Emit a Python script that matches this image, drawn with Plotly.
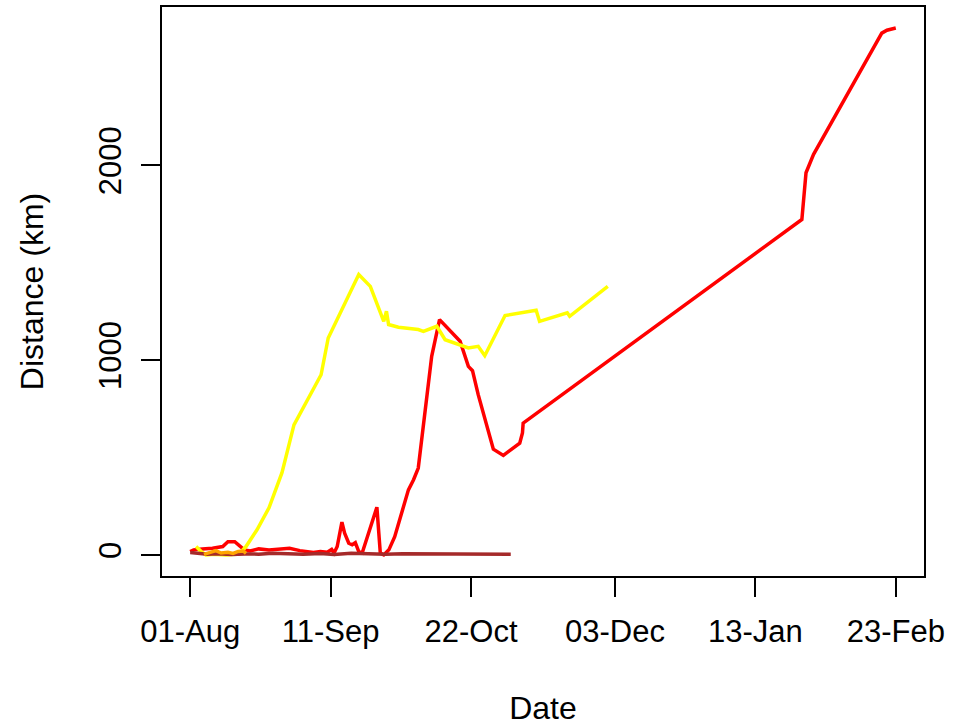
import pandas as pd
import plotly.graph_objects as go

# Tracked animals: distance from release site over time
red_dates = [
    "2016-08-01", "2016-08-02", "2016-08-04 12:00", "2016-08-07 12:00", "2016-08-10 12:00",
    "2016-08-12", "2016-08-14", "2016-08-15 07:00", "2016-08-16 19:00", "2016-08-18 12:00",
    "2016-08-21", "2016-08-24", "2016-08-27", "2016-08-30", "2016-09-02",
    "2016-09-04", "2016-09-06", "2016-09-08", "2016-09-10", "2016-09-11 07:00",
    "2016-09-12", "2016-09-12 22:00", "2016-09-14 07:00", "2016-09-15 02:00", "2016-09-16 07:00",
    "2016-09-17 07:00", "2016-09-18 05:00", "2016-09-19 05:00", "2016-09-20 05:00", "2016-09-24 12:00",
    "2016-09-25 12:00", "2016-09-26 12:00", "2016-09-28", "2016-09-29 17:00", "2016-09-30 22:00",
    "2016-10-03 17:00", "2016-10-05 05:00", "2016-10-06 14:00", "2016-10-10 12:00", "2016-10-12 19:00",
    "2016-10-18 19:00", "2016-10-21 05:00", "2016-10-22 10:00", "2016-10-24 02:00", "2016-10-28 12:00",
    "2016-10-31 10:00", "2016-11-05 05:00", "2016-11-06", "2016-11-06 05:00", "2017-01-26 14:00",
    "2017-01-27 19:00", "2017-01-30", "2017-02-18 22:00", "2017-02-20 10:00", "2017-02-23",
]
red_km = [
    17, 26, 30, 34, 43,
    68, 68, 51, 26, 20,
    31, 25, 31, 34, 22,
    15, 12, 18, 14, 28,
    10, 43, 168, 112, 60,
    52, 63, 17, 10, 245,
    9, 0, 26, 94, 163,
    334, 386, 446, 1020, 1208,
    1097, 968, 946, 823, 543,
    511, 574, 626, 677, 1722,
    1962, 2057, 2679, 2694, 2705,
]

yellow_dates = [
    "2016-08-02 17:00", "2016-08-04 05:00", "2016-08-05 14:00", "2016-08-08", "2016-08-11 10:00",
    "2016-08-15 07:00", "2016-08-17 07:00", "2016-08-20 12:00", "2016-08-24", "2016-08-27 19:00",
    "2016-08-31 07:00", "2016-09-08 05:00", "2016-09-10 07:00", "2016-09-19 05:00", "2016-09-22 14:00",
    "2016-09-26 12:00", "2016-09-27 07:00", "2016-09-27 22:00", "2016-09-30 19:00", "2016-10-06 14:00",
    "2016-10-08 02:00", "2016-10-12", "2016-10-14 10:00", "2016-10-21 05:00", "2016-10-24 02:00",
    "2016-10-26", "2016-10-31 22:00", "2016-11-10", "2016-11-11", "2016-11-19 02:00",
    "2016-11-19 19:00", "2016-11-30 22:00",
]
yellow_km = [
    43, 17, 0, 3, 0,
    5, 43, 129, 242, 422,
    668, 925, 1114, 1440, 1379,
    1199, 1251, 1183, 1169, 1157,
    1148, 1174, 1105, 1063, 1071,
    1023, 1229, 1256, 1199, 1243,
    1225, 1379,
]

brown_dates = [
    "2016-08-01", "2016-08-03", "2016-08-06", "2016-08-09", "2016-08-13",
    "2016-08-17", "2016-08-21", "2016-08-25", "2016-08-29", "2016-09-03",
    "2016-09-08", "2016-09-12", "2016-09-17", "2016-09-22", "2016-09-27",
    "2016-10-02", "2016-10-10", "2016-10-20", "2016-11-02 14:00",
]
brown_km = [12, 8, 3, 6, 2, 5, 4, 9, 6, 3, 7, 2, 8, 4, 3, 6, 5, 4, 3]

orange_dates = [
    "2016-08-05", "2016-08-07", "2016-08-08 12:00", "2016-08-10", "2016-08-12",
    "2016-08-13 12:00", "2016-08-15", "2016-08-16 12:00", "2016-08-17 07:00",
]
orange_km = [3, 12, 22, 10, 14, 8, 18, 20, 8]

tick_dates = ["2016-08-01", "2016-09-11", "2016-10-22", "2016-12-03", "2017-01-13", "2017-02-23"]
tick_labels = ["01-Aug", "11-Sep", "22-Oct", "03-Dec", "13-Jan", "23-Feb"]
y_ticks = [0, 1000, 2000]


def to_dt(values):
    return pd.to_datetime(values, format="ISO8601")


series = [
    (red_dates, red_km, "#FF0000"),
    (yellow_dates, yellow_km, "#FFFF00"),
    (brown_dates, brown_km, "#A52A2A"),
    (orange_dates, orange_km, "#FFA500"),
]

fig = go.Figure()
for dates, km, colour in series:
    fig.add_trace(go.Scatter(
        x=to_dt(dates), y=km, mode="lines",
        line=dict(color=colour, width=3.5), showlegend=False,
    ))

# axis limits padded by 4% like base R graphics
all_dates = to_dt(red_dates + yellow_dates + brown_dates + orange_dates)
t0, t1 = all_dates.min(), all_dates.max()
tpad = (t1 - t0) * 0.04
all_km = red_km + yellow_km + brown_km + orange_km
ymin, ymax = min(all_km), max(all_km)
ypad = (ymax - ymin) * 0.04

font = dict(family="Liberation Sans, Arial, sans-serif", size=31, color="black")
title_font = dict(family="Liberation Sans, Arial, sans-serif", size=32, color="black")

fig.update_layout(
    width=958, height=726,
    margin=dict(l=162, r=34, t=7, b=150),
    paper_bgcolor="white", plot_bgcolor="white",
    font=font,
    xaxis=dict(
        range=[t0 - tpad, t1 + tpad],
        tickvals=to_dt(tick_dates), ticktext=tick_labels,
        ticks="outside", ticklen=19, tickwidth=1.5, tickcolor="black",
        showline=True, mirror=True, linecolor="black", linewidth=1.5,
        showgrid=False, zeroline=False, ticklabelstandoff=8,
        automargin=False,
        title=dict(text="Date", standoff=54, font=title_font),
    ),
    yaxis=dict(
        range=[ymin - ypad, ymax + ypad],
        tickvals=y_ticks, ticktext=[str(v) for v in y_ticks],
        tickangle=-90,
        ticks="outside", ticklen=19, tickwidth=1.5, tickcolor="black",
        showline=True, mirror=True, linecolor="black", linewidth=1.5,
        showgrid=False, zeroline=False, ticklabelstandoff=8,
        automargin=False,
        title=dict(text="Distance (km)", standoff=40, font=title_font),
    ),
)

fig.write_html("out.html")
